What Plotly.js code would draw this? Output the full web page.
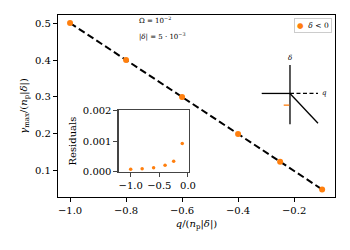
<!DOCTYPE html>
<html>
<head>
<meta charset="utf-8">
<script src="https://cdn.plot.ly/plotly-3.0.1.min.js"></script>
<style>html,body{margin:0;padding:0;background:#fff;}#chart{width:350px;height:250px;}</style>
</head>
<body>
<div id="chart"></div>
<script>
// Data
const qValues = [-1.0, -0.8, -0.6, -0.4, -0.25, -0.1];
const gammaValues = [0.5, 0.4, 0.3, 0.2, 0.125, 0.05];
const fitQ = [-1.0, -0.1];
const fitGamma = [0.5, 0.05];
const residuals = [0.00009, 0.0001, 0.00014, 0.00022, 0.00035, 0.00092];
const legendLabel = "<i>δ</i> &lt; 0";

const FONT = "DejaVu Serif, serif";
const ORANGE = "#ff7f0e";

const traces = [
  {x: fitQ, y: fitGamma, mode: "lines", line: {color: "black", width: 2, dash: "7px,3.5px"},
   showlegend: false, hoverinfo: "skip", xaxis: "x", yaxis: "y"},
  {x: qValues, y: gammaValues, mode: "markers", marker: {color: ORANGE, size: 6},
   name: legendLabel, showlegend: false, xaxis: "x", yaxis: "y"},
  {x: qValues, y: residuals, mode: "markers", marker: {color: ORANGE, size: 3.5},
   showlegend: false, xaxis: "x2", yaxis: "y2"}
];

// schematic (decorative) in paper coords
const vx = 0.8375, hy = 0.569;
const shapes = [
  {type: "line", xref: "paper", yref: "paper", x0: vx, x1: vx, y0: 0.40, y1: 0.725, line: {color: "black", width: 1.3}},
  {type: "line", xref: "paper", yref: "paper", x0: 0.7354, x1: vx, y0: hy, y1: hy, line: {color: "black", width: 1.3}},
  {type: "line", xref: "paper", yref: "paper", x0: vx, x1: 0.9386, y0: hy, y1: hy, line: {color: "black", width: 1.3, dash: "4px,2.5px"}},
  {type: "line", xref: "paper", yref: "paper", x0: vx, x1: 0.9386, y0: hy, y1: 0.4056, line: {color: "black", width: 1.3}},
  {type: "line", xref: "paper", yref: "paper", x0: 0.8148, x1: 0.835, y0: 0.5047, y1: 0.5047, line: {color: ORANGE, width: 1.3}}
];

const annotations = [
  {xref: "paper", yref: "paper", x: 0.285, y: 0.972, xanchor: "left", yanchor: "middle", showarrow: false,
   text: "Ω = 10<sup>−2</sup>", font: {family: FONT, size: 7, color: "black"}},
  {xref: "paper", yref: "paper", x: 0.285, y: 0.884, xanchor: "left", yanchor: "middle", showarrow: false,
   text: "|<i>δ</i>| = 5 · 10<sup>−3</sup>", font: {family: FONT, size: 7, color: "black"}},
  {xref: "paper", yref: "paper", x: vx, y: 0.765, xanchor: "center", yanchor: "middle", showarrow: false,
   text: "<i>δ</i>", font: {family: FONT, size: 7, color: "black"}},
  {xref: "paper", yref: "paper", x: 0.962, y: hy, xanchor: "center", yanchor: "middle", showarrow: false,
   text: "<i>q</i>", font: {family: FONT, size: 7, color: "black"}},
  // legend box
  {xref: "paper", yref: "paper", x: 0.988, y: 0.985, xanchor: "right", yanchor: "top", showarrow: false,
   text: "<span style='color:" + ORANGE + "'>●</span>  " + legendLabel,
   font: {family: FONT, size: 7.5, color: "black"}, bgcolor: "white", bordercolor: "#cccccc",
   borderwidth: 1, borderpad: 2}
];

const layout = {
  width: 350, height: 250,
  margin: {l: 58, r: 15, t: 15, b: 53},
  paper_bgcolor: "white", plot_bgcolor: "white",
  font: {family: FONT, size: 10, color: "black"},
  showlegend: false,
  xaxis: {domain: [0, 1], range: [-1.043, -0.054], showgrid: false, zeroline: false,
          showline: true, mirror: true, linecolor: "black", linewidth: 1.2,
          ticks: "outside", ticklen: 4, tickwidth: 1, tickcolor: "black",
          tickvals: [-1.0, -0.8, -0.6, -0.4, -0.2], tickformat: ".1f", tickfont: {family: FONT, size: 10},
          title: {text: "<i>q</i>/(<i>n</i><sub>p</sub>|<i>δ</i>|)", font: {family: FONT, size: 10}, standoff: 4}},
  yaxis: {domain: [0, 1], range: [0.0295, 0.5217], showgrid: false, zeroline: false,
          showline: true, mirror: true, linecolor: "black", linewidth: 1.2,
          ticks: "outside", ticklen: 4, tickwidth: 1, tickcolor: "black",
          tickvals: [0.1, 0.2, 0.3, 0.4, 0.5], tickformat: ".1f", tickfont: {family: FONT, size: 10},
          title: {text: "<i>γ</i><sub>max</sub>/(<i>n</i><sub>p</sub>|<i>δ</i>|)", font: {family: FONT, size: 10}, standoff: 5}},
  xaxis2: {domain: [0.2202, 0.4729], anchor: "y2", range: [-1.204, 0.0175], showgrid: false, zeroline: false,
           showline: true, mirror: true, linecolor: "#444", linewidth: 1.5,
           ticks: "outside", ticklen: 4, tickwidth: 1, tickcolor: "#444",
           tickvals: [-1.0, -0.5, 0.0], tickformat: ".1f", tickfont: {family: FONT, size: 10}},
  yaxis2: {domain: [0.1376, 0.477], anchor: "x2", range: [0, 0.002], showgrid: false, zeroline: false,
           showline: true, mirror: true, linecolor: "#444", linewidth: 1.5,
           ticks: "outside", ticklen: 4, tickwidth: 1, tickcolor: "#444",
           tickvals: [0, 0.001, 0.002], tickformat: ".3f", tickfont: {family: FONT, size: 10},
           title: {text: "Residuals", font: {family: FONT, size: 10}, standoff: 4}},
  shapes: shapes,
  annotations: annotations
};

Plotly.newPlot("chart", traces, layout, {displayModeBar: false, staticPlot: true});
</script>
</body>
</html>
